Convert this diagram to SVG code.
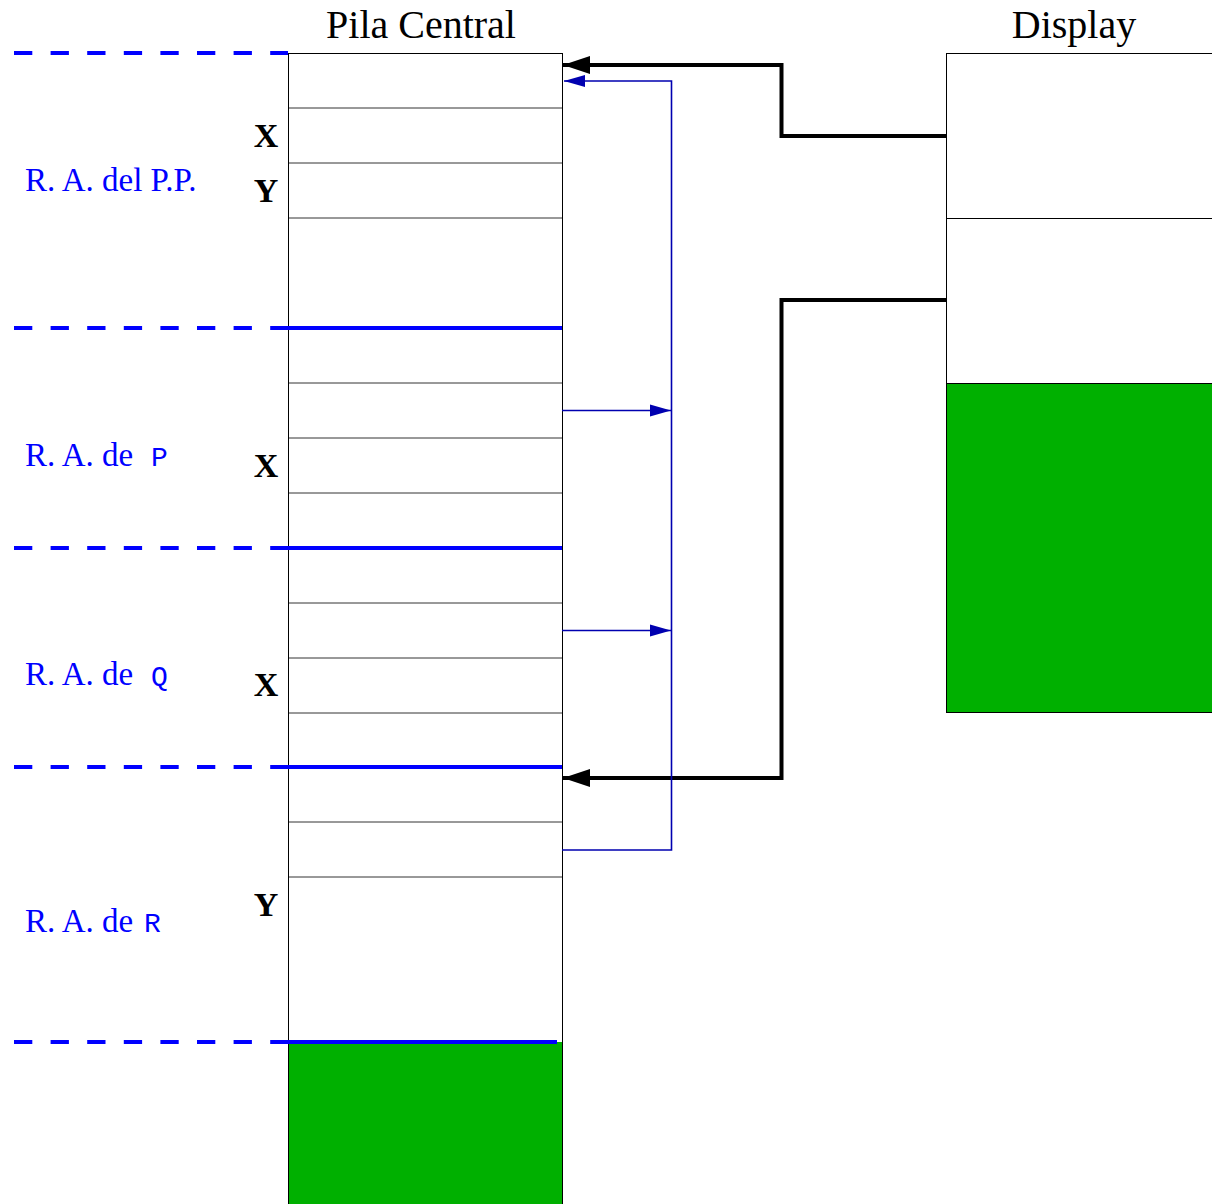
<svg xmlns="http://www.w3.org/2000/svg" width="1212" height="1204" viewBox="0 0 1212 1204">
<style>
.title{font-family:"Liberation Serif",serif;font-size:40px;fill:#000}
.ra{font-family:"Liberation Serif",serif;font-size:33px;fill:#0000ff}
.mono{font-family:"Liberation Mono",monospace;font-size:28px;fill:#0000ff}
.var{font-family:"Liberation Serif",serif;font-size:34px;font-weight:bold;fill:#000;text-anchor:middle}
.cell{fill:none;stroke:#000;stroke-width:1}
.row{stroke:#333;stroke-width:1}
.dash{stroke:#0000ff;stroke-width:4;stroke-dasharray:18.3 18.3;fill:none}
.solid{stroke:#0000ff;stroke-width:4;fill:none}
.blk{stroke:#000;stroke-width:4;fill:none}
.blu{stroke:#0000b0;stroke-width:1.6;fill:none}
.green{fill:#00b000}
</style>
<defs>
<marker id="ab" markerUnits="userSpaceOnUse" markerWidth="28" markerHeight="18" refX="27" refY="9" orient="auto">
<path d="M0,0 L27,9 L0,18 Z" fill="#000"/>
</marker>
<marker id="au" markerUnits="userSpaceOnUse" markerWidth="22" markerHeight="14" refX="21" refY="7" orient="auto">
<path d="M0,1 L21,7 L0,13 Z" fill="#0000b0"/>
</marker>
</defs>
<rect width="1212" height="1204" fill="#fff"/>
<text class="title" x="421" y="38" text-anchor="middle">Pila Central</text>
<text class="title" x="1074" y="38" text-anchor="middle">Display</text>
<g id="pila">
<rect class="green" x="288" y="1042" width="274" height="170"/>
<line class="row" x1="288" y1="108" x2="562" y2="108"/>
<line class="row" x1="288" y1="163" x2="562" y2="163"/>
<line class="row" x1="288" y1="218" x2="562" y2="218"/>
<line class="row" x1="288" y1="383" x2="562" y2="383"/>
<line class="row" x1="288" y1="438" x2="562" y2="438"/>
<line class="row" x1="288" y1="493" x2="562" y2="493"/>
<line class="row" x1="288" y1="603" x2="562" y2="603"/>
<line class="row" x1="288" y1="658" x2="562" y2="658"/>
<line class="row" x1="288" y1="713" x2="562" y2="713"/>
<line class="row" x1="288" y1="822" x2="562" y2="822"/>
<line class="row" x1="288" y1="877" x2="562" y2="877"/>
<rect class="cell" x="288.5" y="53.5" width="274" height="1170"/>
</g>
<g id="display">
<rect class="green" x="946" y="383" width="280" height="329"/>
<rect class="cell" x="946.5" y="53.5" width="280" height="659"/>
<line class="cell" x1="946" y1="218.5" x2="1212" y2="218.5"/>
<line class="cell" x1="946" y1="383.5" x2="1212" y2="383.5"/>
</g>
<g id="frames">
<line class="dash" x1="14" y1="53" x2="288" y2="53"/>
<line class="dash" x1="14" y1="328" x2="288" y2="328"/>
<line class="solid" x1="288" y1="328" x2="562" y2="328"/>
<line class="dash" x1="14" y1="548" x2="288" y2="548"/>
<line class="solid" x1="288" y1="548" x2="562" y2="548"/>
<line class="dash" x1="14" y1="767" x2="288" y2="767"/>
<line class="solid" x1="288" y1="767" x2="562" y2="767"/>
<line class="dash" x1="14" y1="1042" x2="288" y2="1042"/>
<line class="solid" x1="288" y1="1042" x2="557" y2="1042"/>
</g>
<g id="labels">
<text class="ra" x="25" y="191">R. A. del P.P.</text>
<text class="ra" x="25" y="466">R. A. de</text><text class="mono" x="151" y="466">P</text>
<text class="ra" x="25" y="685">R. A. de</text><text class="mono" x="151" y="685">Q</text>
<text class="ra" x="25" y="932">R. A. de</text><text class="mono" x="144" y="932">R</text>
<text class="var" x="266" y="147">X</text>
<text class="var" x="266" y="202">Y</text>
<text class="var" x="266" y="477">X</text>
<text class="var" x="266" y="696">X</text>
<text class="var" x="266" y="916">Y</text>
</g>
<g id="connectors">
<polyline class="blk" points="946,136 781.5,136 781.5,65 563,65" marker-end="url(#ab)"/>
<polyline class="blk" points="946,300 781.5,300 781.5,778 563,778" marker-end="url(#ab)"/>
<polyline class="blu" points="562,850 671.5,850 671.5,81 564,81" marker-end="url(#au)"/>
<line class="blu" x1="562" y1="410.5" x2="671" y2="410.5" marker-end="url(#au)"/>
<line class="blu" x1="562" y1="630.5" x2="671" y2="630.5" marker-end="url(#au)"/>
</g>
</svg>
